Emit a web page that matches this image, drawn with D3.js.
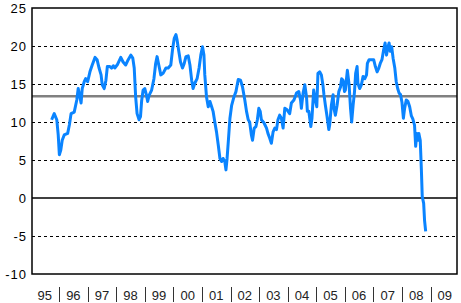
<!DOCTYPE html>
<html>
<head>
<meta charset="utf-8">
<script src="https://cdn.jsdelivr.net/npm/d3@7/dist/d3.min.js"></script>
<style>
  body { margin: 0; background: #fff; }
  svg { display: block; }
</style>
</head>
<body>
<svg id="chart" width="461" height="303"></svg>
<script>
// year labels under the axis, one per year band
const yearLabels = ["95", "96", "97", "98", "99", "00", "01", "02", "03", "04", "05", "06", "07", "08", "09"];
const yTicks = [-10, -5, 0, 5, 10, 15, 20, 25];
const dashedLevels = [-5, 5, 10, 15, 20];
const averageLevel = 13.4;

// decimal year of each reading
const times = [
  1995.74, 1995.83, 1995.92, 1995.97, 1996.01, 1996.06, 1996.11, 1996.18, 1996.30, 1996.36,
  1996.42, 1996.53, 1996.62, 1996.67, 1996.73, 1996.77, 1996.81, 1996.88, 1996.93, 1997.00,
  1997.08, 1997.16, 1997.26, 1997.33, 1997.40, 1997.47, 1997.51, 1997.58, 1997.64, 1997.69,
  1997.78, 1997.84, 1997.90, 1997.95, 1998.05, 1998.16, 1998.24, 1998.33, 1998.42, 1998.51,
  1998.58, 1998.63, 1998.68, 1998.73, 1998.80, 1998.85, 1998.89, 1998.94, 1999.00, 1999.06,
  1999.10, 1999.15, 1999.24, 1999.32, 1999.38, 1999.43, 1999.49, 1999.56, 1999.64, 1999.74,
  1999.82, 1999.91, 1999.97, 2000.03, 2000.09, 2000.13, 2000.19, 2000.25, 2000.32, 2000.38,
  2000.44, 2000.52, 2000.58, 2000.64, 2000.69, 2000.75, 2000.83, 2000.90, 2000.96, 2001.02,
  2001.07, 2001.10, 2001.16, 2001.22, 2001.28, 2001.34, 2001.39, 2001.45, 2001.51, 2001.57,
  2001.63, 2001.69, 2001.74, 2001.80, 2001.84, 2001.88, 2001.93, 2001.98, 2002.04, 2002.12,
  2002.19, 2002.27, 2002.35, 2002.42, 2002.50, 2002.56, 2002.62, 2002.67, 2002.73, 2002.77,
  2002.83, 2002.89, 2002.94, 2002.99, 2003.04, 2003.08, 2003.17, 2003.26, 2003.31, 2003.37,
  2003.43, 2003.49, 2003.55, 2003.61, 2003.66, 2003.72, 2003.78, 2003.84, 2003.90, 2003.98,
  2004.07, 2004.13, 2004.22, 2004.31, 2004.39, 2004.45, 2004.48, 2004.54, 2004.60, 2004.66,
  2004.69, 2004.74, 2004.81, 2004.85, 2004.91, 2004.97, 2005.02, 2005.06, 2005.12, 2005.18,
  2005.24, 2005.27, 2005.32, 2005.38, 2005.44, 2005.47, 2005.53, 2005.59, 2005.62, 2005.67,
  2005.73, 2005.79, 2005.85, 2005.89, 2005.94, 2005.99, 2006.02, 2006.06, 2006.09, 2006.15,
  2006.20, 2006.24, 2006.29, 2006.34, 2006.38, 2006.43, 2006.46, 2006.52, 2006.58, 2006.64,
  2006.70, 2006.76, 2006.79, 2006.85, 2006.93, 2007.01, 2007.07, 2007.13, 2007.19, 2007.24,
  2007.30, 2007.36, 2007.41, 2007.46, 2007.50, 2007.55, 2007.59, 2007.64, 2007.69, 2007.75,
  2007.80, 2007.85, 2007.90, 2007.95, 2008.00, 2008.05, 2008.09, 2008.15, 2008.21, 2008.27,
  2008.33, 2008.38, 2008.44, 2008.48, 2008.52, 2008.56, 2008.59, 2008.64, 2008.68, 2008.71,
  2008.76, 2008.79, 2008.83
];

const values = [
  10.3, 11.1, 10.3, 8.3, 5.7, 6.3, 7.6, 8.3, 8.5, 9.6,
  11.1, 11.3, 12.9, 14.4, 13.3, 12.5, 14.4, 15.3, 15.7, 15.3,
  16.6, 17.5, 18.5, 18.2, 17.1, 16.2, 14.9, 14.4, 15.5, 17.3,
  17.3, 17.1, 17.4, 17.1, 17.6, 18.5, 17.9, 17.5, 18.2, 18.8,
  18.4, 17.1, 13.3, 11.1, 10.3, 10.7, 12.8, 14.2, 14.4, 13.5,
  12.7, 13.5, 14.2, 15.7, 17.7, 18.6, 17.5, 16.2, 16.4, 17.1,
  17.1, 17.5, 19.5, 21.0, 21.5, 20.8, 19.3, 17.9, 17.1, 17.7,
  18.6, 18.7, 17.5, 15.5, 14.4, 15.1, 15.7, 17.1, 18.8, 19.9,
  18.8, 16.2, 13.3, 12.0, 12.7, 12.0, 11.4, 10.0, 8.7, 7.0,
  5.2, 4.8, 5.2, 4.8, 3.7, 5.2, 7.8, 10.5, 12.2, 13.3,
  14.0, 15.6, 15.5, 14.6, 12.9, 11.4, 10.3, 10.0, 8.3, 7.6,
  9.2, 9.4, 10.3, 11.8, 11.4, 10.3, 9.9, 9.2, 8.5, 7.9,
  7.2, 8.7, 9.2, 9.0, 10.3, 10.9, 10.5, 9.2, 11.8, 11.6,
  11.1, 12.5, 12.9, 13.8, 14.0, 12.9, 11.8, 13.8, 14.9, 13.3,
  11.4, 11.4, 9.4, 10.5, 14.2, 12.9, 12.0, 16.4, 16.6, 16.2,
  14.7, 13.6, 12.2, 10.7, 9.0, 9.6, 12.2, 13.6, 11.8, 10.9,
  12.2, 14.0, 14.6, 15.7, 15.5, 14.0, 14.2, 15.7, 16.8, 14.9,
  11.8, 10.0, 12.2, 14.0, 16.4, 17.3, 15.1, 14.4, 14.9, 16.0,
  15.7, 16.2, 17.7, 18.2, 18.2, 18.2, 17.3, 16.6, 17.1, 17.7,
  18.2, 19.5, 20.4, 18.8, 19.7, 20.4, 19.3, 19.9, 18.4, 17.1,
  15.3, 14.4, 13.8, 13.6, 12.6, 10.5, 11.7, 12.9, 12.7, 12.0,
  10.8, 10.4, 9.6, 6.8, 8.5, 7.6, 8.5, 7.6, 3.7, 0.2,
  -0.7, -2.9, -4.4
];

const svg = d3.select("#chart");
const plotLeft = 32, plotRight = 457, plotTop = 8, plotBottom = 274;

const x = d3.scaleLinear().domain([1995, 2010]).range([30.5, 459.1]);
const y = d3.scaleLinear().domain([-10, 25]).range([plotBottom, plotTop]);

// dashed grid
svg.append("g")
  .selectAll("line")
  .data(dashedLevels)
  .enter()
  .append("line")
  .attr("x1", plotLeft)
  .attr("x2", plotRight)
  .attr("y1", (d) => Math.round(y(d)) + 0.5)
  .attr("y2", (d) => Math.round(y(d)) + 0.5)
  .attr("stroke", "#000")
  .attr("stroke-width", 1)
  .attr("stroke-dasharray", "3,3");

// zero line
svg.append("line")
  .attr("x1", plotLeft)
  .attr("x2", plotRight)
  .attr("y1", y(0))
  .attr("y2", y(0))
  .attr("stroke", "#000")
  .attr("stroke-width", 1.5);

// long-term average
svg.append("line")
  .attr("x1", plotLeft)
  .attr("x2", plotRight)
  .attr("y1", y(averageLevel))
  .attr("y2", y(averageLevel))
  .attr("stroke", "#808080")
  .attr("stroke-width", 2.5);

const points = times.map((t, i) => ({ t: t, v: values[i] }));
const line = d3.line().x((d) => x(d.t)).y((d) => y(d.v));

svg.append("path")
  .datum(points)
  .attr("d", line)
  .attr("fill", "none")
  .attr("stroke", "#0a84ff")
  .attr("stroke-width", 3)
  .attr("stroke-linejoin", "round");

// frame
svg.append("rect")
  .attr("x", plotLeft)
  .attr("y", plotTop)
  .attr("width", plotRight - plotLeft)
  .attr("height", plotBottom - plotTop)
  .attr("fill", "none")
  .attr("stroke", "#000")
  .attr("stroke-width", 1.5);

// y labels
svg.append("g")
  .selectAll("text")
  .data(yTicks)
  .enter()
  .append("text")
  .attr("x", 27)
  .attr("y", (d) => y(d))
  .attr("dy", "0.36em")
  .attr("text-anchor", "end")
  .attr("font-family", "Arial, 'Liberation Sans', sans-serif")
  .attr("font-size", 13)
  .attr("letter-spacing", 1)
  .attr("fill", "#000")
  .text((d) => d);

// year labels and separators
svg.append("g")
  .selectAll("text")
  .data(yearLabels)
  .enter()
  .append("text")
  .attr("x", (d, i) => x(1995 + i + 0.5))
  .attr("y", 300)
  .attr("text-anchor", "middle")
  .attr("font-family", "Arial, 'Liberation Sans', sans-serif")
  .attr("font-size", 13)
  .attr("fill", "#222")
  .text((d) => d);

svg.append("g")
  .selectAll("line")
  .data(yearLabels.slice(1))
  .enter()
  .append("line")
  .attr("x1", (d, i) => Math.round(x(1996 + i)) + 0.5)
  .attr("x2", (d, i) => Math.round(x(1996 + i)) + 0.5)
  .attr("y1", 287)
  .attr("y2", 302)
  .attr("stroke", "#333")
  .attr("stroke-width", 1);
</script>
</body>
</html>
